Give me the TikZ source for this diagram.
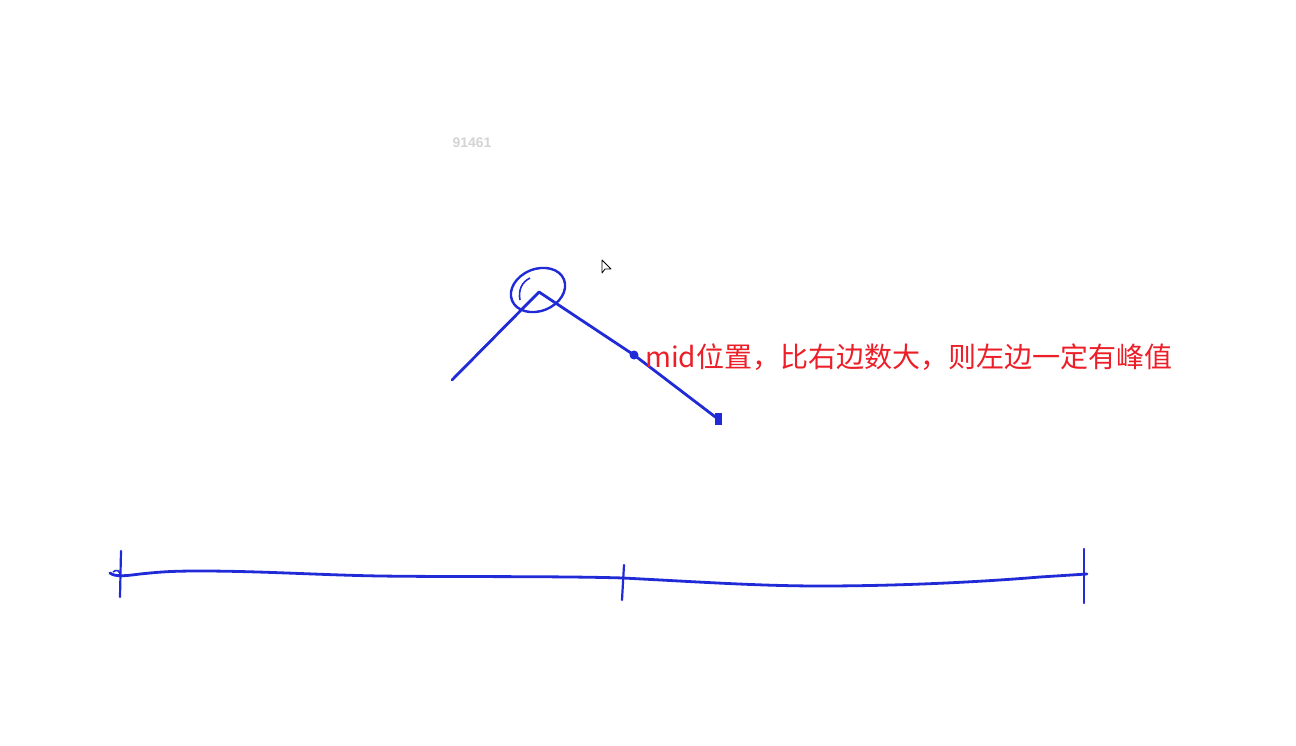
\documentclass[tikz,border=0pt]{standalone}
\usepackage{fontspec}
\newfontfamily\cjk{Noto Sans CJK SC}
\newfontfamily\wmfont{Liberation Sans}
\definecolor{pen}{RGB}{32,42,215}
\definecolor{note}{RGB}{236,30,40}
\definecolor{wm}{RGB}{212,212,212}
\tikzset{
  ink/.style={draw=pen, line width=2.8pt, line cap=round, line join=round},
  thin ink/.style={draw=pen, line width=2.2pt, line cap=round},
}
\begin{document}
\begin{tikzpicture}[x=1pt,y=-1pt]
\useasboundingbox[fill=white] (0,0) rectangle (1296,746);
% watermark
\node[text=wm, font=\wmfont\fontsize{14}{16}\selectfont\bfseries] (wmark) at (472,143) {91461};
% cursor
\draw[black, line width=0.8pt, fill=white, line join=round] (602,260) -- (602,273) -- (605,269) -- (611,269) -- cycle;
% peak sketch
\coordinate (lft) at (452,380);
\coordinate (peak) at (539,292);
\coordinate (mid) at (634,355);
\coordinate (rend) at (718,419);
\draw[ink] (lft) -- (peak) -- (mid) -- (rend);
\draw[ink, line width=2.4pt, rotate around={22:(538,290)}] (538,290) ellipse [x radius=28, y radius=21];
\draw[pen, line width=1.6pt] (520,300) .. controls (518,290) and (522,282) .. (530,278);
\fill[pen] (mid) circle (4.5);
\fill[pen] (rend) ++(-3.5,-6) rectangle ++(7,12);
% note
\node[text=note, anchor=base west, inner sep=0pt, font=\cjk\fontsize{28}{30}\selectfont] (txt) at (645,367) {mid位置，比右边数大，则左边一定有峰值};
% bottom line
\coordinate (a) at (110,573);
\coordinate (b) at (623,578);
\coordinate (c) at (1087,574);
\draw[ink] (a) .. controls (115,577) and (125,576) .. (140,574)
  .. controls (160,572) and (170,571) .. (200,571)
  .. controls (260,571) and (320,575) .. (380,576)
  .. controls (450,577) and (560,576) .. (b)
  .. controls (700,582) and (760,586) .. (820,586)
  .. controls (900,586) and (980,582) .. (1040,577)
  -- (c);
\draw[thin ink] (121,551) -- (120,597);
\draw[thin ink] (624,565) -- (622,600);
\draw[thin ink] (1084,549) -- (1084,603);
\draw[pen, line width=1.6pt] (113,572) .. controls (116,569) and (121,570) .. (120,577);
\end{tikzpicture}
\end{document}
